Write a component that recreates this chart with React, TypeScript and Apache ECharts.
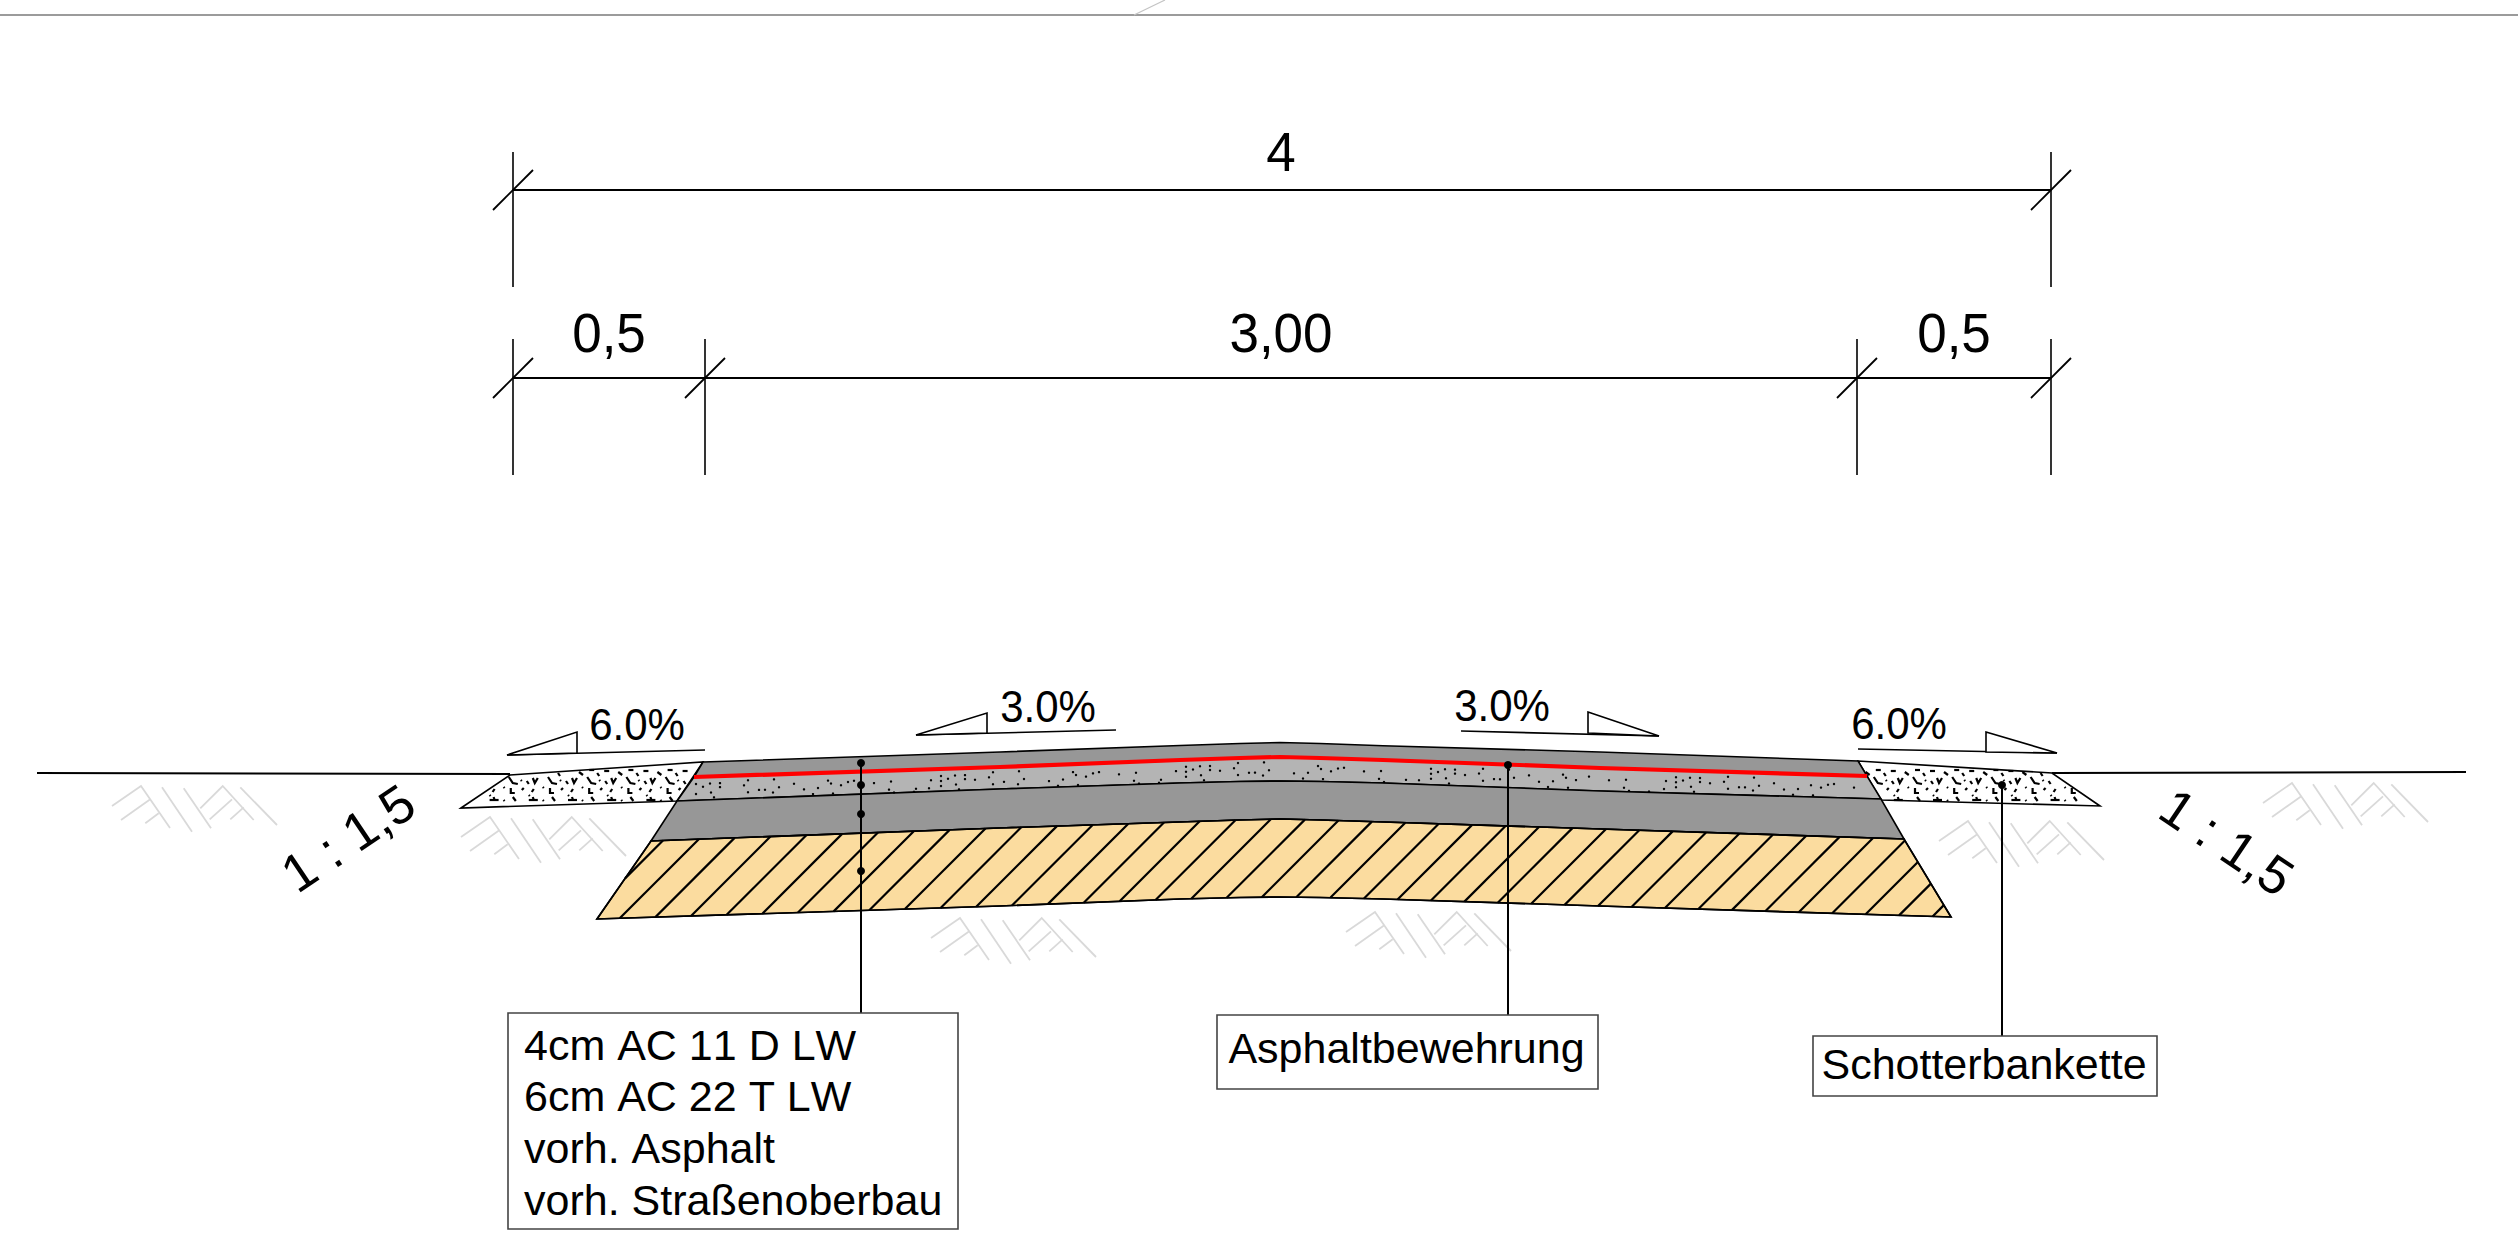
import React, { useEffect, useRef } from "react";
import * as echarts from "echarts";

type P = number[];

const FONT = "'Liberation Sans', Arial, sans-serif";

// Road cross-section profile (drawing units = image pixels)
const roadTop: P[] = [[703, 762], [1000, 752], [1180, 745.5], [1240, 743.5], [1280, 742.5], [1320, 743.5], [1383, 745.7], [1600, 752], [1858, 761]];
const reinforcement: P[] = [[694, 777], [1000, 767], [1180, 760], [1240, 758], [1280, 757], [1320, 758], [1383, 760], [1600, 768], [1867, 776]];
const oldAsphaltBottom: P[] = [[677, 801], [1000, 789], [1180, 783], [1240, 781.5], [1280, 781], [1320, 781.5], [1383, 783], [1600, 791], [1881, 799]];
const baseTop: P[] = [[651, 841], [1000, 828], [1180, 822], [1240, 820], [1280, 819], [1320, 820], [1383, 822], [1600, 829], [1904, 839]];
const baseBottom: P[] = [[597, 919], [1000, 906], [1180, 899], [1240, 897.5], [1280, 897], [1320, 897.5], [1383, 899], [1600, 906], [1951, 917]];

const shoulderLeft: P[] = [[461, 808], [510, 775], [703, 762], [677, 801]];
const shoulderRight: P[] = [[1858, 761], [2052, 773], [2100, 806], [1881, 800]];
const groundLeft: P[] = [[37, 773], [510, 774]];
const groundRight: P[] = [[2052, 773], [2466, 772]];
const groundSymbolAnchors: P[] = [[112, 806], [461, 837], [931, 938], [1346, 932], [1939, 841], [2263, 803]];
const groundSymbol: P[][] = [
  [[0, 0], [29, -20], [58, 22]],
  [[9, 14], [38.3, -6.7]],
  [[33.3, 17.3], [46.7, 7.3]],
  [[50, -18.7], [80, 25.7]],
  [[71.7, -17.7], [99, 22.3]],
  [[88.3, 2.3], [110.7, -20], [141.7, 14]],
  [[97.7, 13.3], [120, -6.7]],
  [[118.3, 13.3], [131.7, 1.3]],
  [[128.3, -18.7], [165, 19]],
];
const gravelTile: P[][] = [
  [[2, 12], [6, 18], [11, 19]],
  [[26, 13], [28, 18], [31, 13]],
  [[19, 6], [24, 6]],
  [[4, 5], [9, 5]],
  [[12, 8], [14, 11]],
  [[33, 7], [37, 10]],
  [[20, 16], [22, 19]],
  [[4, 23], [4, 28], [8, 28]],
  [[17, 23], [15, 25]],
  [[27, 24], [25, 27]],
  [[6, 32], [9, 36]],
  [[22, 35], [31, 35]],
  [[26, 32], [27, 35]],
  [[22, 30], [23, 31]],
  [[36, 22], [37, 23]],
  [[14, 15], [15, 16]],
  [[36, 35], [37, 36]],
];
const speckTile: P[] = [
  [0, 7], [0, 12], [0, 17], [7, 10], [14, 7], [24, 7], [24, 11], [15, 16], [18, 21], [34, 12], [48, 10], [52, 17],
  [52, 5], [63, 15], [69, 15], [77, 18], [78, 5], [83, 13], [98, 10], [108, 16], [117, 21], [122, 15], [132, 8],
  [135, 11], [137, 21], [145, 13], [152, 10], [158, 9], [178, 12], [195, 11], [193, 19], [198, 22], [220, 19],
  [235, 11], [233, 19], [218, 22],
];

// Dimension chains
const dimTopY = [190];
const dimTopX = [513, 2051];
const dimTopExt = [152, 287];
const dimLowY = [378];
const dimLowX = [513, 705, 1857, 2051];
const dimLowExt = [339, 475];

// Slope markers
const slopeLines: P[][] = [
  [[507, 755], [705, 750]],
  [[916, 735], [1116, 730]],
  [[1461, 731], [1659, 736]],
  [[1858, 749], [2057, 753]],
];
const slopeTriangles: P[][] = [
  [[507, 755], [577, 732], [577, 753]],
  [[916, 735], [987, 713], [987, 733]],
  [[1588, 712], [1659, 736], [1588, 733]],
  [[1986, 732], [2057, 753], [1986, 752]],
];

// Call-outs
const leaders: P[][] = [
  [[861, 763], [861, 1013]],
  [[1508, 765], [1508, 1015]],
  [[2002, 785], [2002, 1036]],
];
const leaderDots: P[] = [[861, 763], [861, 785], [861, 814], [861, 871], [1508, 765], [2002, 785]];
const boxes: P[] = [[508, 1013, 958, 1229], [1217, 1015, 1598, 1089], [1813, 1036, 2157, 1096]];
const topRule: P[] = [[0, 15], [2518, 15]];
const topStroke: P[] = [[1134, 15], [1165, 0]];

// Texts
const dimensionLabels: [string, number, number][] = [["4", 1281, 152], ["0,5", 609, 333], ["3,00", 1281, 333], ["0,5", 1954, 333]];
const slopeLabels: [string, number, number][] = [["6.0%", 637, 725], ["3.0%", 1048, 707], ["3.0%", 1502, 706], ["6.0%", 1899, 724]];
const batterLabels: [string, number, number, number][] = [["1 : 1,5", 348, 838, 34], ["1 : 1,5", 2227, 842, -34]];
const calloutLines: [string, number, number][] = [
  ["4cm AC 11 D LW", 524, 1045],
  ["6cm AC 22 T LW", 524, 1096],
  ["vorh. Asphalt", 524, 1148],
  ["vorh. Straßenoberbau", 524, 1200],
];
const calloutSingles: [string, number, number][] = [["Asphaltbewehrung", 1406.5, 1048], ["Schotterbankette", 1984, 1064]];

const COLORS = { ink: "#000", ground: "#d9d9d9", dark: "#979797", light: "#b4b4b4", sand: "#fbdc9f", red: "#ff0000", rule: "#7a7a7a", ruleLight: "#c4c4c4", box: "#444" };

function inPoly(p: P, poly: P[]) {
  let inside = false;
  for (let i = 0, j = poly.length - 1; i < poly.length; j = i++) {
    const [xi, yi] = poly[i];
    const [xj, yj] = poly[j];
    if (yi > p[1] !== yj > p[1] && p[0] < ((xj - xi) * (p[1] - yi)) / (yj - yi) + xi) inside = !inside;
  }
  return inside;
}

function yAt(line: P[], x: number) {
  for (let i = 1; i < line.length; i++) {
    if (x <= line[i][0]) {
      const t = (x - line[i - 1][0]) / (line[i][0] - line[i - 1][0]);
      return line[i - 1][1] + t * (line[i][1] - line[i - 1][1]);
    }
  }
  return line[line.length - 1][1];
}

function hatch(poly: P[], c0: number, step: number) {
  const out: P[][] = [];
  const cs = poly.map((p) => p[0] + p[1]);
  const min = Math.min(...cs);
  const max = Math.max(...cs);
  for (let c = c0 + Math.ceil((min - c0) / step) * step; c < max; c += step) {
    const hits: P[] = [];
    for (let i = 0; i < poly.length; i++) {
      const a = poly[i];
      const b = poly[(i + 1) % poly.length];
      const ca = a[0] + a[1];
      const cb = b[0] + b[1];
      if ((ca - c) * (cb - c) < 0) {
        const t = (c - ca) / (cb - ca);
        hits.push([a[0] + t * (b[0] - a[0]), a[1] + t * (b[1] - a[1])]);
      }
    }
    hits.sort((u, v) => u[0] - v[0]);
    for (let i = 0; i + 1 < hits.length; i += 2) out.push([hits[i], hits[i + 1]]);
  }
  return out;
}

type Prim =
  | { k: "poly"; pts: P[]; fill: string; stroke: string; w: number }
  | { k: "line"; pts: P[]; stroke: string; w: number }
  | { k: "dot"; pts: P[]; r: number; fill: string }
  | { k: "text"; pts: P[]; text: string; size: number; align: string; rot: number; sy: number };

function buildPrims(): Prim[] {
  const prims: Prim[] = [];
  const line = (pts: P[], w: number, stroke = COLORS.ink) => prims.push({ k: "line", pts, stroke, w });
  const poly = (pts: P[], fill: string, stroke = COLORS.ink, w = 1.6) => prims.push({ k: "poly", pts, fill, stroke, w });
  const text = (t: string, x: number, y: number, size: number, align = "center", rot = 0, sy = 1) =>
    prims.push({ k: "text", pts: [[x, y]], text: t, size, align, rot, sy });

  line(topRule, 1.4, COLORS.rule);
  line(topStroke, 1.2, COLORS.ruleLight);

  groundSymbolAnchors.forEach(([ax, ay]) =>
    groundSymbol.forEach((seg) => line(seg.map(([x, y]) => [ax + x, ay + y]), 1.8, COLORS.ground))
  );

  poly(shoulderLeft, "#fff");
  poly(shoulderRight, "#fff");
  ([[shoulderLeft, 546, 465], [shoulderRight, 1911, 1855]] as [P[], number, number][]).forEach(([shape, phase, start]) => {
    const first = phase - Math.ceil((phase - start) / 39.2) * 39.2;
    for (let ox = first; ox < 2110; ox += 39.2) {
      gravelTile.forEach((seg) => {
        const pts = seg.map(([x, y]) => [ox + x, 765 + y]);
        if (pts.every((p) => inPoly(p, shape))) line(pts, 2.2);
      });
    }
  });
  line(groundLeft, 2);
  line(groundRight, 2);

  poly([...roadTop, ...[...reinforcement].reverse()], COLORS.dark);
  poly([...reinforcement, ...[...oldAsphaltBottom].reverse()], COLORS.light);
  poly([...oldAsphaltBottom, ...[...baseTop].reverse()], COLORS.dark);
  const sandShape = [...baseTop, ...[...baseBottom].reverse()];
  poly(sandShape, COLORS.sand);
  hatch(sandShape, 1538, 34.5).forEach((seg) => line(seg, 2.2));
  poly(sandShape, "none");

  for (let ox = 696; ox < 1870; ox += 245) {
    speckTile.forEach(([dx, dy]) => {
      const x = ox + dx;
      if (x > 1866) return;
      const y = yAt(reinforcement, x) + dy;
      prims.push({ k: "dot", pts: [[x, y]], r: 1.2, fill: COLORS.ink });
    });
  }
  line(reinforcement, 4.2, COLORS.red);

  // Dimensions
  const tick = (x: number, y: number) => line([[x - 20, y + 20], [x + 20, y - 20]], 1.8);
  line([[dimTopX[0], dimTopY[0]], [dimTopX[1], dimTopY[0]]], 2);
  dimTopX.forEach((x) => {
    line([[x, dimTopExt[0]], [x, dimTopExt[1]]], 1.6);
    tick(x, dimTopY[0]);
  });
  line([[dimLowX[0], dimLowY[0]], [dimLowX[3], dimLowY[0]]], 2);
  dimLowX.forEach((x) => {
    line([[x, dimLowExt[0]], [x, dimLowExt[1]]], 1.6);
    tick(x, dimLowY[0]);
  });
  dimensionLabels.forEach(([t, x, y]) => text(t, x, y, 53, "center", 0, 1.05));

  slopeLines.forEach((l) => line(l, 1.6));
  slopeTriangles.forEach((t) => poly(t, "#fff", COLORS.ink, 1.6));
  slopeLabels.forEach(([t, x, y]) => text(t, x, y, 42, "center", 0, 1.05));
  batterLabels.forEach(([t, x, y, r]) => text(t, x, y, 53, "center", r));

  leaders.forEach((l) => line(l, 2));
  leaderDots.forEach((d) => prims.push({ k: "dot", pts: [d], r: 4, fill: COLORS.ink }));
  boxes.forEach(([x0, y0, x1, y1]) => poly([[x0, y0], [x1, y0], [x1, y1], [x0, y1]], "#fff", COLORS.box, 1.6));
  calloutLines.forEach(([t, x, y]) => text(t, x, y, 43, "left"));
  calloutSingles.forEach(([t, x, y]) => text(t, x, y, 43));
  return prims;
}

export default function App() {
  const ref = useRef<HTMLDivElement>(null);
  useEffect(() => {
    document.body.style.margin = "0";
    const chart = echarts.init(ref.current!, undefined, { renderer: "svg" });
    const prims = buildPrims();
    chart.setOption({
      animation: false,
      backgroundColor: "#fff",
      grid: { left: 0, right: 0, top: 0, bottom: 0 },
      xAxis: { type: "value", min: 0, max: 2518, show: false },
      yAxis: { type: "value", min: 0, max: 1240, inverse: true, show: false },
      series: [
        {
          type: "custom",
          coordinateSystem: "cartesian2d",
          clip: false,
          silent: true,
          encode: { x: 0, y: 1 },
          data: prims.map((p, i) => [p.pts[0][0], p.pts[0][1], i]),
          renderItem: (_: any, api: any) => {
            const p = prims[api.value(2)];
            const pts = p.pts.map((q) => api.coord(q));
            if (p.k === "poly") return { type: "polygon", shape: { points: pts }, style: { fill: p.fill, stroke: p.stroke, lineWidth: p.w } };
            if (p.k === "line") return { type: "polyline", shape: { points: pts }, style: { fill: "none", stroke: p.stroke, lineWidth: p.w } };
            if (p.k === "dot") return { type: "circle", shape: { cx: pts[0][0], cy: pts[0][1], r: p.r }, style: { fill: p.fill } };
            return {
              type: "text",
              x: pts[0][0],
              y: pts[0][1],
              rotation: (p.rot * Math.PI) / 180,
              scaleY: p.sy,
              style: { text: p.text, x: 0, y: 0, fill: COLORS.ink, fontSize: p.size, fontFamily: FONT, align: p.align, verticalAlign: "middle", textAlign: p.align, textVerticalAlign: "middle" },
            };
          },
        },
      ],
    });
    return () => chart.dispose();
  }, []);
  return <div ref={ref} style={{ position: "absolute", left: 0, top: 0, width: 2518, height: 1240, fontKerning: "none" } as any} />;
}
